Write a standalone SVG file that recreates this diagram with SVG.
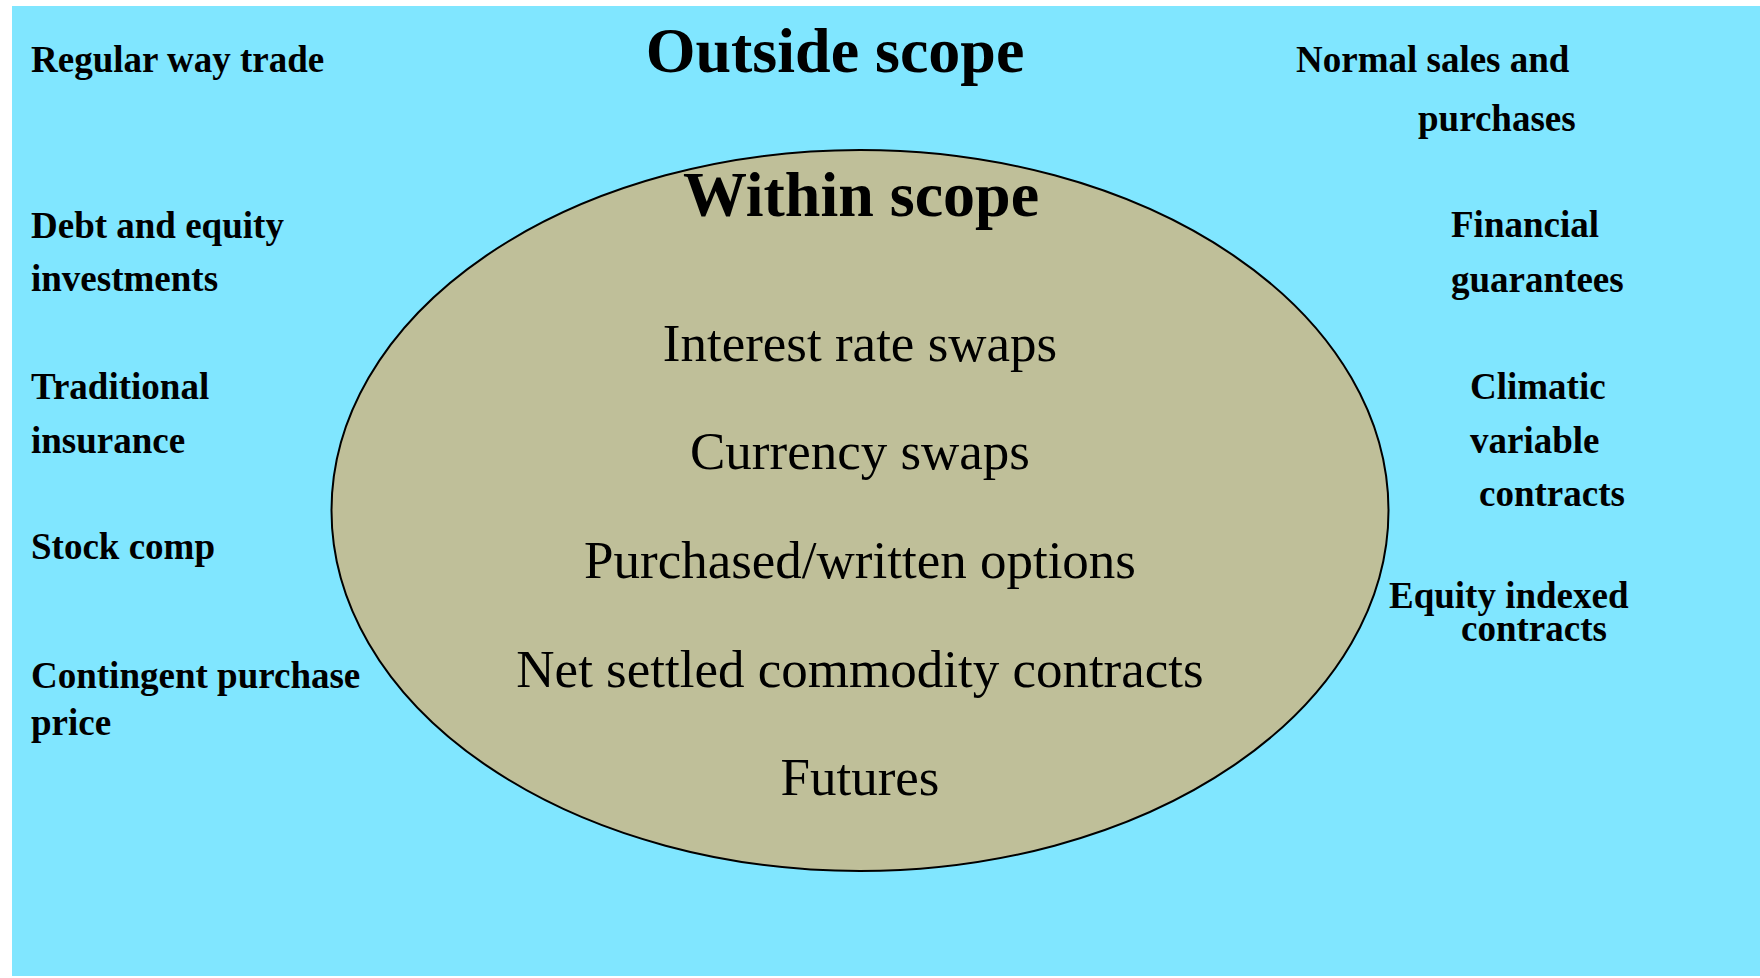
<svg xmlns="http://www.w3.org/2000/svg" width="1760" height="978" viewBox="0 0 1760 978">
<style>
.bg{fill:#80E6FF;}
.oval{fill:#BFBF99;stroke:#000;stroke-width:2;}
.title{font-family:"Liberation Serif","Times New Roman",serif;font-weight:bold;font-size:64px;fill:#000;text-anchor:middle;}
.item{font-family:"Liberation Serif","Times New Roman",serif;font-size:53px;fill:#000;text-anchor:middle;}
.lab{font-family:"Liberation Serif","Times New Roman",serif;font-weight:bold;font-size:37px;fill:#000;}
</style>
<rect width="1760" height="978" fill="#FFFFFF"/>
<rect id="outside-area" class="bg" x="12" y="6" width="1748" height="970"/>
<g id="outside-title"><text class="title" x="835" y="72">Outside scope</text></g>
<g id="within-scope">
<ellipse class="oval" cx="860" cy="510.5" rx="528.5" ry="360.5"/>
<text class="title" x="861" y="216">Within scope</text>
<text class="item" x="860" y="361">Interest rate swaps</text>
<text class="item" x="860" y="469">Currency swaps</text>
<text class="item" x="860" y="578">Purchased/written options</text>
<text class="item" x="860" y="687">Net settled commodity contracts</text>
<text class="item" x="860" y="795">Futures</text>
</g>
<g id="regular-way-trade"><text class="lab" x="31" y="72">Regular way trade</text></g>
<g id="debt-equity"><text class="lab" x="31" y="238">Debt and equity</text><text class="lab" x="31" y="291">investments</text></g>
<g id="traditional-insurance"><text class="lab" x="31" y="399">Traditional</text><text class="lab" x="31" y="453">insurance</text></g>
<g id="stock-comp"><text class="lab" x="31" y="559">Stock comp</text></g>
<g id="contingent-purchase"><text class="lab" x="31" y="688">Contingent purchase</text><text class="lab" x="31" y="735">price</text></g>
<g id="normal-sales"><text class="lab" x="1296" y="72">Normal sales and</text><text class="lab" x="1418" y="131">purchases</text></g>
<g id="financial-guarantees"><text class="lab" x="1451" y="237">Financial</text><text class="lab" x="1451" y="292">guarantees</text></g>
<g id="climatic"><text class="lab" x="1470" y="399">Climatic</text><text class="lab" x="1470" y="453">variable</text><text class="lab" x="1479" y="506">contracts</text></g>
<g id="equity-indexed"><text class="lab" x="1389" y="608">Equity indexed</text><text class="lab" x="1461" y="641">contracts</text></g>
<g id="connectors"></g>
</svg>
